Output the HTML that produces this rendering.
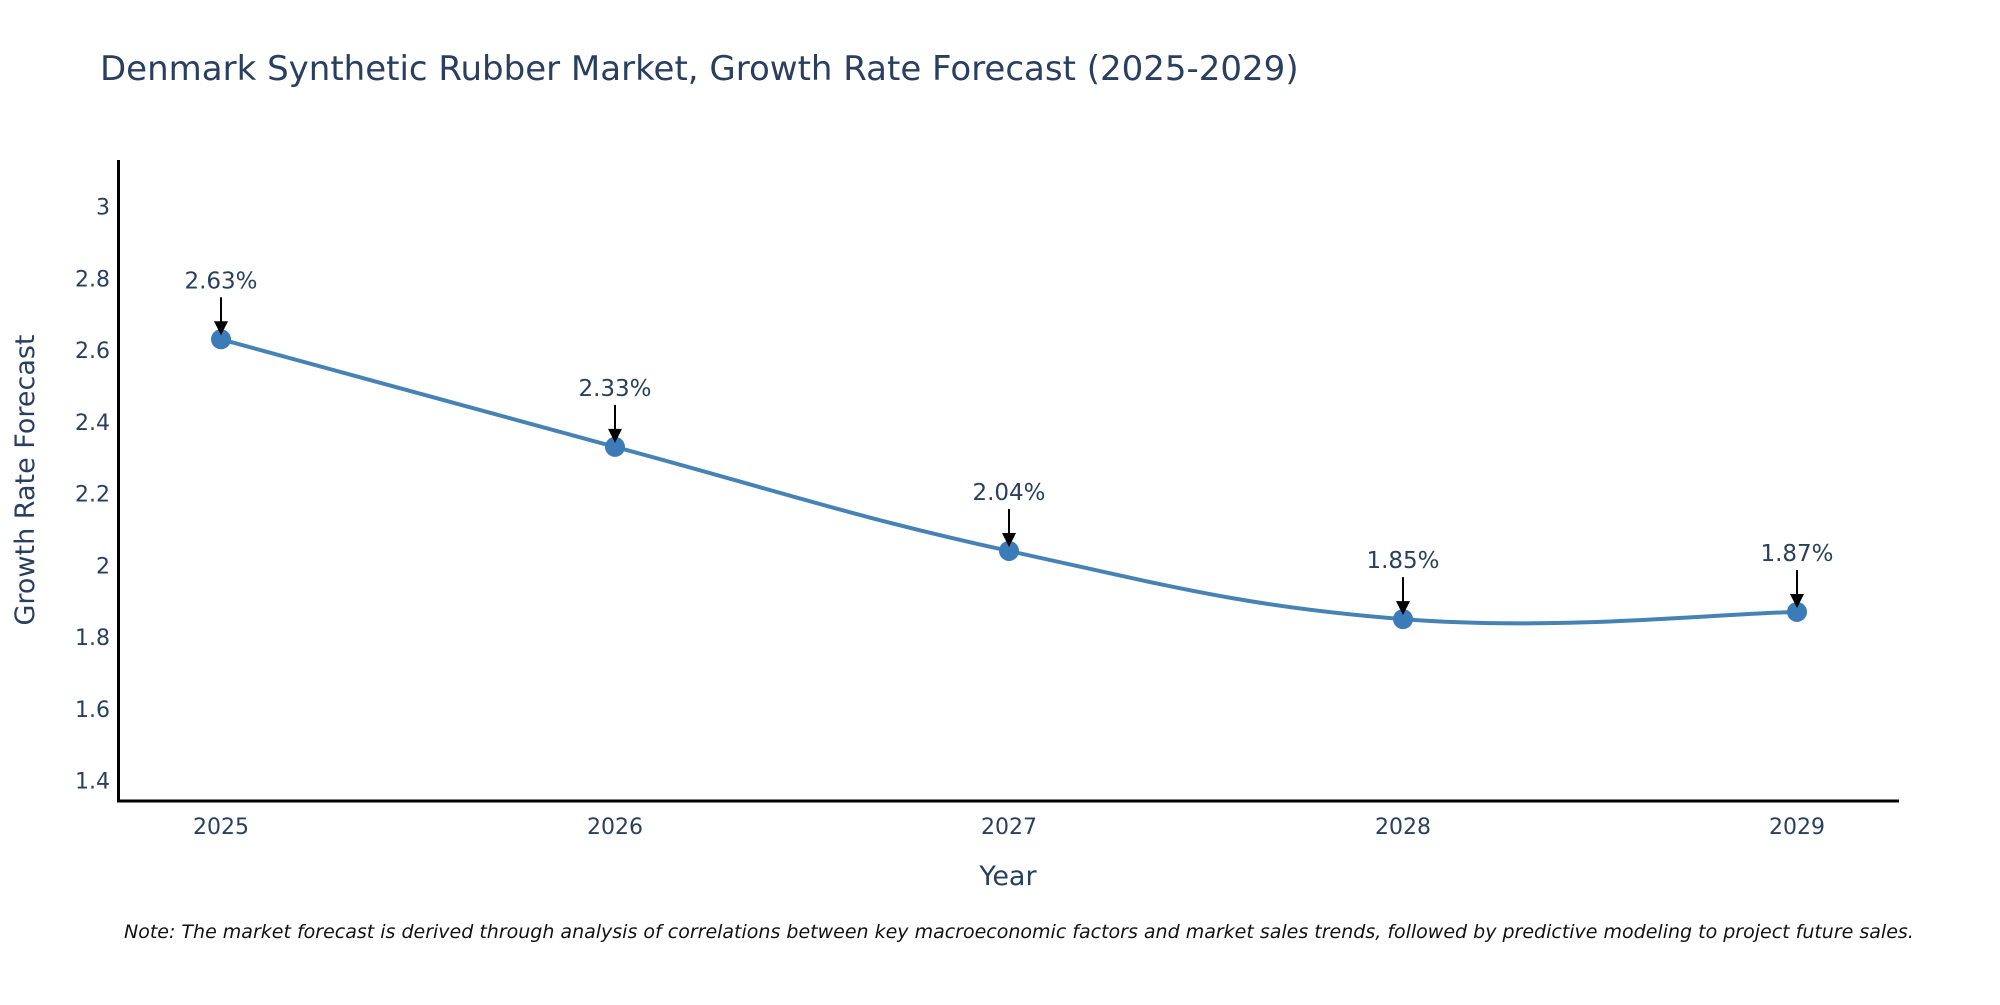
<!DOCTYPE html>
<html><head><meta charset="utf-8"><style>
body{margin:0;background:#fff;overflow:hidden;}
svg text{font-family:"DejaVu Sans","Liberation Sans",sans-serif;fill:#2a3f5f;}
</style></head><body>
<svg id="chart" width="2000" height="1000" viewBox="0 0 2000 1000" xmlns="http://www.w3.org/2000/svg">
<text x="100" y="80" font-size="34">Denmark Synthetic Rubber Market, Growth Rate Forecast (2025-2029)</text>
<g id="yticks"></g>
<g id="xticks"></g>
<line x1="118.5" y1="160" x2="118.5" y2="802" stroke="#000" stroke-width="3"/>
<line x1="117" y1="801" x2="1899" y2="801" stroke="#000" stroke-width="3"/>
<g id="series"></g>
<g id="annots"></g>
<text x="1008" y="885" font-size="27" text-anchor="middle">Year</text>
<text transform="translate(34,480) rotate(-90)" font-size="27" text-anchor="middle">Growth Rate Forecast</text>
<text x="124" y="938" font-size="19" font-style="italic" style="fill:#111">Note: The market forecast is derived through analysis of correlations between key macroeconomic factors and market sales trends, followed by predictive modeling to project future sales.</text>
</svg>
<script>
const categories = ["2025","2026","2027","2028","2029"];
const values = [2.63, 2.33, 2.04, 1.85, 1.87];
const valueLabels = ["2.63%","2.33%","2.04%","1.85%","1.87%"];
const yTicks = [1.4,1.6,1.8,2,2.2,2.4,2.6,2.8,3];
const yTickLabels = ["1.4","1.6","1.8","2","2.2","2.4","2.6","2.8","3"];

const NS="http://www.w3.org/2000/svg";
const yMin=1.343, yMax=3.127, yTop=161, yBot=801;
function yScale(v){return yBot-(v-yMin)/(yMax-yMin)*(yBot-yTop);}
const x0=221, xStep=394;
function xScale(i){return x0+i*xStep;}
function mk(tag,attrs,parent){const e=document.createElementNS(NS,tag);for(const k in attrs)e.setAttribute(k,attrs[k]);parent.appendChild(e);return e;}

const yg=document.getElementById('yticks');
yTicks.forEach((t,i)=>{
  const e=mk('text',{x:110,y:yScale(t)+8,'font-size':22,'text-anchor':'end'},yg);
  
  
  e.textContent=yTickLabels[i];
});
const xg=document.getElementById('xticks');
categories.forEach((c,i)=>{
  const e=mk('text',{x:xScale(i),y:834,'font-size':22,'text-anchor':'middle'},xg);
  
  
  e.textContent=c;
});

const pts=values.map((v,i)=>[xScale(i),yScale(v)]);
let d=`M${pts[0][0]},${pts[0][1]}`;
const s=0.2;
for(let i=0;i<pts.length-1;i++){
  const p0=pts[Math.max(i-1,0)],p1=pts[i],p2=pts[i+1],p3=pts[Math.min(i+2,pts.length-1)];
  const c1=[p1[0]+(p2[0]-p0[0])*s,p1[1]+(p2[1]-p0[1])*s];
  const c2=[p2[0]-(p3[0]-p1[0])*s,p2[1]-(p3[1]-p1[1])*s];
  d+=` C${c1[0]},${c1[1]} ${c2[0]},${c2[1]} ${p2[0]},${p2[1]}`;
}
const sg=document.getElementById('series');
const line=mk('path',{d:d,fill:'none',stroke:'#4682b4','stroke-width':4},sg);


pts.forEach(p=>{
  const c=mk('circle',{cx:p[0],cy:p[1],r:10,fill:'#3a7bb8'},sg);
  
  
});
const ag=document.getElementById('annots');
pts.forEach((p,i)=>{
  const l=mk('line',{x1:p[0],y1:p[1]-42,x2:p[0],y2:p[1]-14,stroke:'#000','stroke-width':2},ag);
  
  
  const h=mk('polygon',{points:`${p[0]-7},${p[1]-18} ${p[0]+7},${p[1]-18} ${p[0]},${p[1]-4}`,fill:'#000'},ag);
  
  
  const t=mk('text',{x:p[0],y:p[1]-51,'font-size':23,'text-anchor':'middle'},ag);
  
  
  t.textContent=valueLabels[i];
});
</script>
</body></html>
